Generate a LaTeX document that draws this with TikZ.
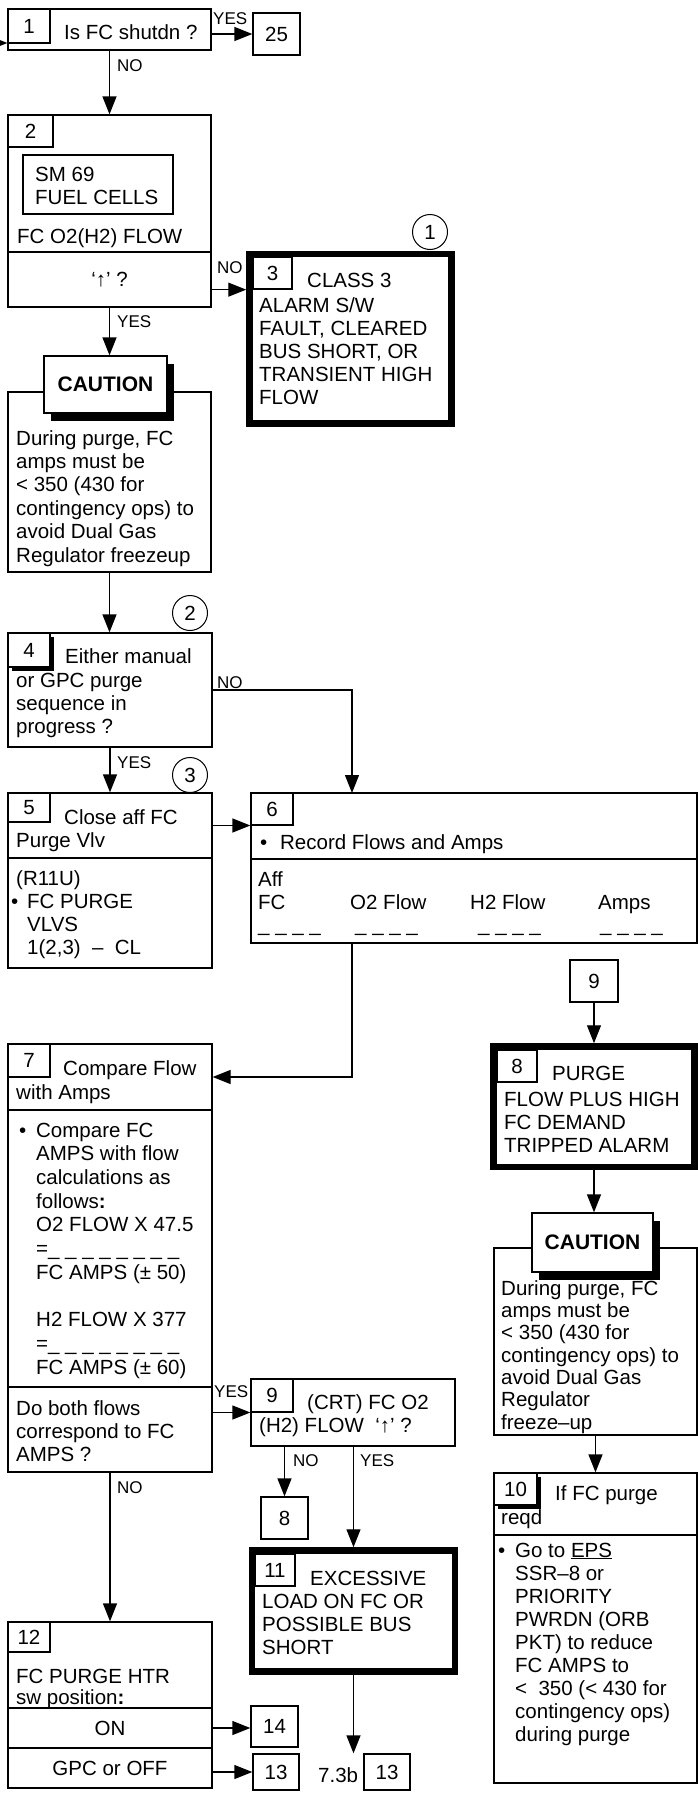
\documentclass[tikz,border=0pt]{standalone}
\usepackage{fontspec}
\setmainfont{Liberation Sans}
\usetikzlibrary{arrows.meta,fit,shadows}
\newcommand{\blt}[1][10pt]{\llap{\textbullet\hspace{#1}}}

\begin{document}
\begin{tikzpicture}[x=1pt,y=-1pt,>={Triangle[length=18pt,width=14pt]},
  font=\fontsize{20.5}{23}\selectfont,
  box/.style={draw,line width=1.3pt,inner sep=0pt},
  alarm/.style={draw,line width=6.5pt,inner sep=0pt},
  numbox/.style={box,fill=white},
  numshade/.style={box,fill=white,drop shadow={shadow xshift=3.5pt,shadow yshift=-3.5pt,fill=black,opacity=1}},
  cautlbl/.style={box,fill=white,drop shadow={shadow xshift=7pt,shadow yshift=-8pt,fill=black,opacity=1}},
  mid/.style={label={[inner sep=0pt]center:#1}},
  txt/.style={anchor=base west,inner sep=0pt,align=left},
  lbl/.style={anchor=base west,inner sep=0pt,font=\fontsize{17}{19}\selectfont},
  note/.style={circle,draw,line width=1pt,minimum size=35pt,inner sep=0pt},
  flow/.style={->,line width=1.3pt}]
\useasboundingbox (0,0) rectangle (698,1793);
\node[box,fit={(8,9) (211,50)}] (b1) {};
\node[numbox,fit={(8,9) (50,43)},mid=1] (n1) {};
\node[txt] (t1) at (64,40) {Is FC shutdn ?};
\node[box,fit={(253,13) (300,55)},mid=25] (r25) {};
\coordinate (in1) at (-12,43);
\draw[flow] (in1) -- (in1 -| b1.west);
\draw[flow] (r25.west -| b1.east) -- (r25.west);
\node[lbl] (l1y) at (213,25) {YES};

\node[box,fit={(8,115) (211,252)}] (b2) {};
\node[box,fit={(8,252) (211,307)},mid={‘↑’ ?}] (b2q) {};
\node[numbox,fit={(8,115) (53,147)},mid=2] (n2) {};
\node[box,fit={(23,155) (173,214)}] (sm) {};
\node[txt] (tsm) at (35,204) {SM 69\\FUEL CELLS};
\node[txt] (t2) at (17,243) {FC O2(H2) FLOW};
\draw[flow] (b1) -- (b2);
\node[lbl] (l1n) at (117,71) {NO};

\node[alarm,fit={(249.5,254) (451.5,423.5)}] (b3) {};
\node[numbox,fit={(253,257) (292,289)},mid=3] (n3) {};
\node[txt] (t3) at (307,287) {CLASS 3};
\node[txt] (t3b) at (259,404) {ALARM S/W\\FAULT, CLEARED\\BUS SHORT, OR\\TRANSIENT HIGH\\FLOW};
\node[note] (c1) at (430,232) {1};
\draw[flow] (b2q.east |- n3.south) -- (b3.west |- n3.south);
\node[lbl] (l2n) at (217,273) {NO};

\node[box,fit={(8,392) (211,572)}] (ct1) {};
\node[cautlbl,fit={(44,356) (167,413)},mid={\fontsize{21}{24}\selectfont\bfseries CAUTION}] (cl1) {};
\node[txt,font=\fontsize{20.5}{23.4}\selectfont] (tc1) at (16,562) {During purge, FC\\amps must be\\< 350 (430 for\\contingency ops) to\\avoid Dual Gas\\Regulator freezeup};
\draw[flow] (b2q.south) -- (b2q.south |- cl1.north);
\node[lbl] (l2y) at (117,327) {YES};

\node[box,fit={(8,633) (212,747)}] (b4) {};
\node[numshade,fit={(8,633) (50,667)},mid=4] (n4) {};
\node[note] (c2) at (190,613) {2};
\node[txt] (t4) at (65,663) {Either manual};
\node[txt] (t4b) at (16,733) {or GPC purge\\sequence in\\progress ?};
\draw[flow] (ct1.south) -- (ct1.south |- b4.north);

\node[box,fit={(8,793) (212,858)}] (b5) {};
\node[box,fit={(8,858) (212,968)}] (b5l) {};
\node[numbox,fit={(8,793) (50,822)},mid=5] (n5) {};
\node[note] (c3) at (190,775) {3};
\node[txt] (t5) at (64,824) {Close aff FC};
\node[txt] (t5b) at (16,847) {Purge Vlv};
\node[txt] (t5c) at (16,885) {(R11U)};
\node[txt] (t5d) at (27,954) {\blt[9pt]FC PURGE\\VLVS\\1(2,3)\ \ –\ \ CL};
\draw[flow] (b4.south) -- (b5.north);
\node[lbl] (l4y) at (117,768) {YES};

\node[box,fit={(251,793) (697,859)}] (b6) {};
\node[box,fit={(251,859) (697,943)}] (b6l) {};
\node[numbox,fit={(251,793) (293,825)},mid=6] (n6) {};
\node[txt] (t6) at (280,849) {\blt[13pt]Record Flows and Amps};
\node[txt] (t6b) at (258,909) {Aff\\FC};
\node[txt] (t6c) at (350,909) {O2 Flow};
\node[txt] (t6d) at (470,909) {H2 Flow};
\node[txt] (t6e) at (598,909) {Amps};
\node[txt] (d6a) at (258,931) {\_ \_ \_ \_};
\node[txt] (d6b) at (355,931) {\_ \_ \_ \_};
\node[txt] (d6c) at (478,931) {\_ \_ \_ \_};
\node[txt] (d6d) at (600,931) {\_ \_ \_ \_};
\coordinate (j6) at (352,793);
\draw[flow] (b4.east) -| (j6);
\node[lbl] (l4n) at (217,688) {NO};
\draw[flow] (b5.east) -- (b5.east -| b6.west);

\node[box,fit={(8,1044) (212,1110)}] (b7) {};
\node[box,fit={(8,1110) (212,1387)}] (b7m) {};
\node[box,fit={(8,1387) (212,1472)}] (b7q) {};
\node[numbox,fit={(8,1044) (50,1077)},mid=7] (n7) {};
\node[txt] (t7) at (63,1075) {Compare Flow};
\node[txt] (t7b) at (16,1099) {with Amps};
\node[txt,font=\fontsize{20.5}{23.7}\selectfont] (t7c) at (36,1374) {\blt Compare FC\\AMPS with flow\\calculations as\\follows\textbf{:}\\O2 FLOW X 47.5\\=\_ \_ \_ \_ \_ \_ \_ \_\\FC AMPS (± 50)\\[23.7pt]H2 FLOW X 377\\=\_ \_ \_ \_ \_ \_ \_ \_\\FC AMPS (± 60)};
\node[txt] (t7d) at (16,1461) {Do both flows\\correspond to FC\\AMPS ?};
\draw[flow] (j6 |- b6l.south) |- (b7.east);

\node[box,fit={(570,960) (618,1002)},mid=9] (r9) {};
\node[alarm,fit={(493.5,1046.5) (694.5,1167)}] (b8) {};
\node[numbox,fit={(497,1050) (537,1082)},mid=8] (n8) {};
\node[txt] (t8) at (552,1080) {PURGE};
\node[txt] (t8b) at (504,1152) {FLOW PLUS HIGH\\FC DEMAND\\TRIPPED ALARM};
\draw[flow] (r9.south) -- (r9.south |- b8.north);

\node[box,fit={(494,1248) (697,1435)}] (ct2) {};
\node[cautlbl,fit={(532,1213) (653,1272)},mid={\fontsize{21}{24}\selectfont\bfseries CAUTION}] (cl2) {};
\node[txt,font=\fontsize{20.5}{22.3}\selectfont] (tc2) at (501,1429) {During purge, FC\\amps must be\\< 350 (430 for\\contingency ops) to\\avoid Dual Gas\\Regulator\\freeze–up};
\draw[flow] (b8.south) -- (b8.south |- cl2.north);

\node[box,fit={(494,1473) (697,1535)}] (b10) {};
\node[box,fit={(494,1535) (697,1783)}] (b10l) {};
\node[numshade,fit={(494,1473) (537,1505)},mid=10] (n10) {};
\node[txt] (t10) at (555,1500) {If FC purge};
\node[txt] (t10b) at (501,1524) {reqd};
\node[txt] (t10c) at (515,1741) {\blt Go to \underline{EPS}\\SSR–8 or\\PRIORITY\\PWRDN (ORB\\PKT) to reduce\\FC AMPS to\\<\ \ 350 (< 430 for\\contingency ops)\\during purge};
\draw[flow] (ct2.south) -- (ct2.south |- b10.north);

\node[box,fit={(251,1379) (455,1446)}] (b9) {};
\node[numbox,fit={(251,1379) (293,1412)},mid=9] (n9) {};
\node[txt] (t9) at (307,1409) {(CRT) FC O2};
\node[txt] (t9b) at (259,1432) {(H2) FLOW\ \ ‘↑’ ?};
\draw[flow] (b9.west -| b7q.east) -- (b9.west);
\node[lbl] (l7y) at (214,1397) {YES};

\node[box,fit={(261,1497) (308,1539)},mid=8] (r8) {};
\draw[flow] (b9.south -| r8.north) -- (r8.north);
\node[lbl] (l9n) at (293,1466) {NO};

\node[alarm,fit={(252,1550.5) (455,1671.5)}] (b11) {};
\node[numbox,fit={(255,1554) (295,1586)},mid=11] (n11) {};
\node[txt] (t11) at (310,1585) {EXCESSIVE};
\node[txt] (t11b) at (262,1654) {LOAD ON FC OR\\POSSIBLE BUS\\SHORT};
\draw[flow] (b9.south -| b11.north) -- (b11.north);
\node[lbl] (l9y) at (360,1466) {YES};
\node[txt] (ref73) at (318,1782) {7.3b};
\node[box,fit={(364,1754) (410,1790)},mid=13] (r13b) {};
\draw[flow] (b11.south) -- (b11.south |- r13b.north);

\node[box,fit={(8,1622) (212,1708)}] (b12) {};
\node[box,fit={(8,1708) (212,1748)},mid=ON] (b12on) {};
\node[box,fit={(8,1748) (212,1788)},mid={GPC or OFF}] (b12off) {};
\node[numbox,fit={(8,1622) (50,1652)},mid=12] (n12) {};
\node[txt,font=\fontsize{20.5}{21}\selectfont] (t12) at (16,1704) {FC PURGE HTR\\sw position\textbf{:}};
\node[box,fit={(251,1706) (298,1747)},mid=14] (r14) {};
\node[box,fit={(253,1754) (299,1790)},mid=13] (r13) {};
\draw[flow] (b7q.south) -- (b12.north);
\node[lbl] (l7n) at (117,1493) {NO};
\draw[flow] (b12on.east) -- (b12on.east -| r14.west);
\draw[flow] (r13.west -| b12off.east) -- (r13.west);
\end{tikzpicture}
\end{document}
